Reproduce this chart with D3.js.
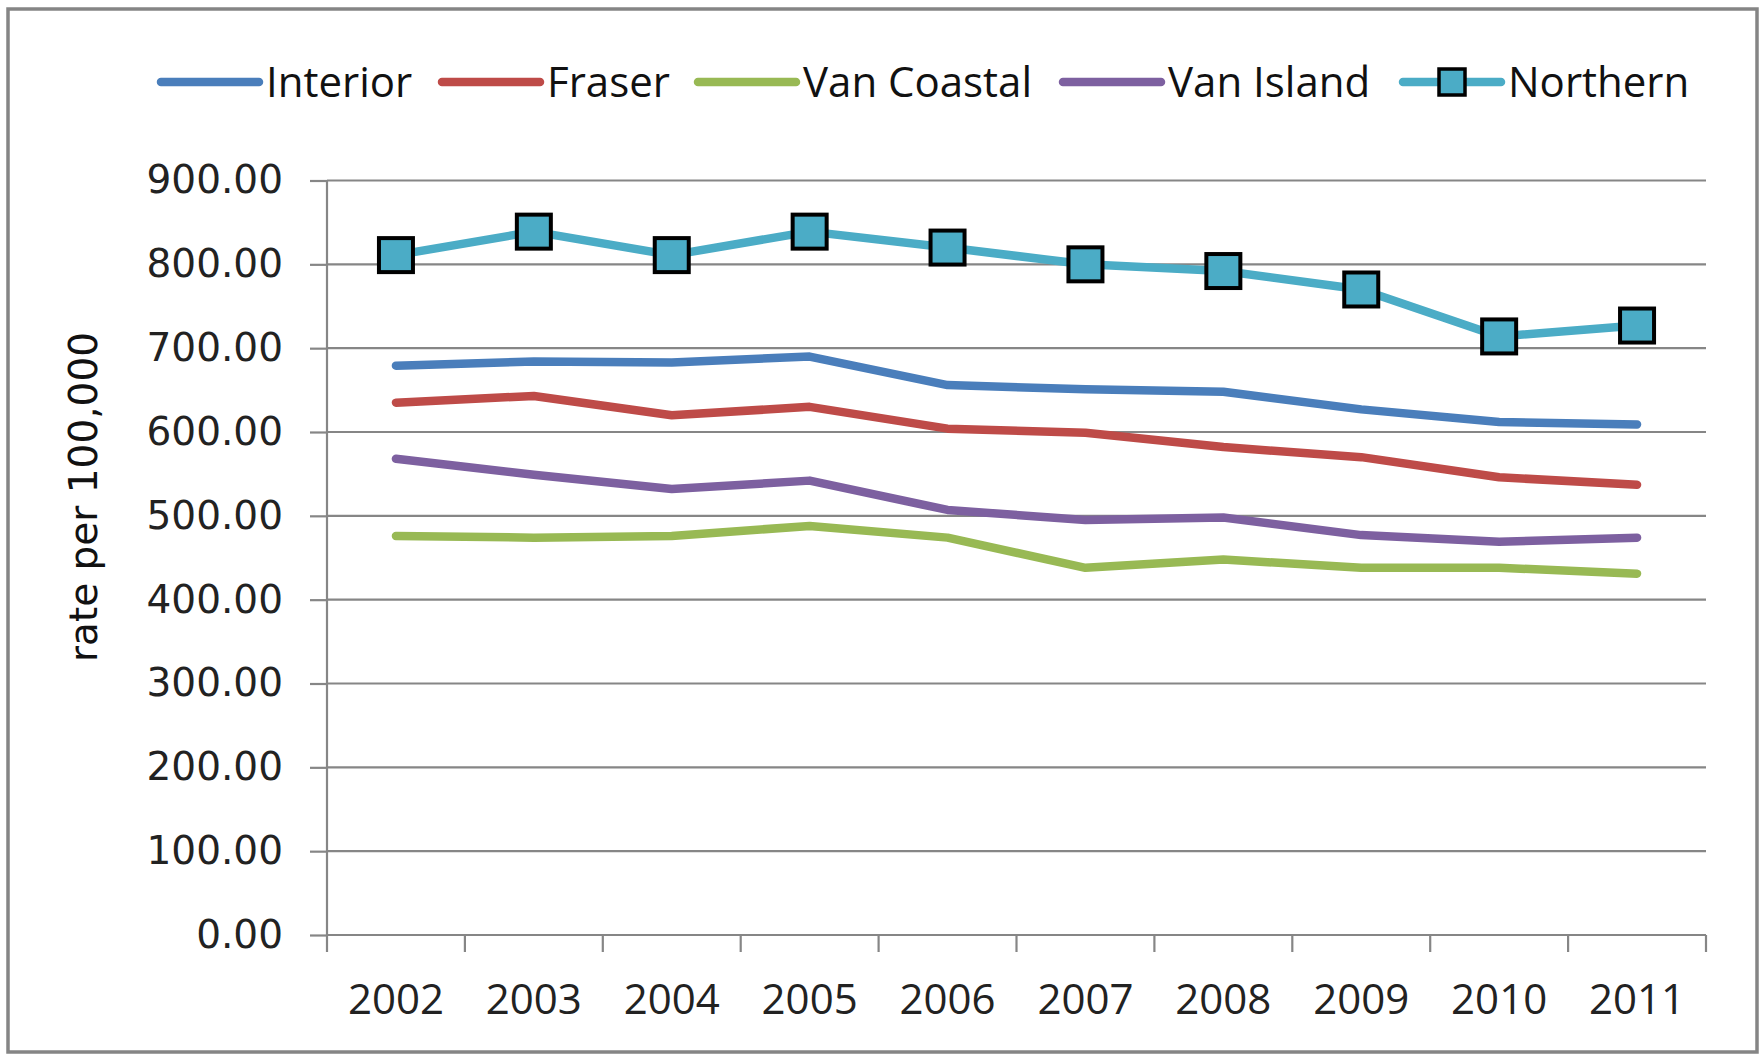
<!DOCTYPE html>
<html>
<head>
<meta charset="utf-8">
<script src="https://cdn.jsdelivr.net/npm/d3@7"></script>
<style>
  body { margin: 0; background: #fff; }
  svg { display: block; }
</style>
</head>
<body>
<svg width="1763" height="1055"></svg>
<script>
// data
var years = ["2002", "2003", "2004", "2005", "2006", "2007", "2008", "2009", "2010", "2011"];
var interior   = [679, 684, 683, 690, 656, 651, 648, 627, 612, 609];
var fraser     = [635, 643, 620, 630, 604, 599, 582, 570, 546, 537];
var vanCoastal = [476, 474, 476, 488, 474, 438, 448, 438, 438, 431];
var vanIsland  = [568, 549, 532, 542, 507, 495, 498, 477, 469, 474];
var northern   = [811, 839, 811, 839, 820, 800, 792, 770, 714, 727];
var seriesNames = ["Interior", "Fraser", "Van Coastal", "Van Island", "Northern"];
var yTicks = [0, 100, 200, 300, 400, 500, 600, 700, 800, 900];

var colors = {
  "Interior": "#4a7ebb",
  "Fraser": "#be4b48",
  "Van Coastal": "#98b954",
  "Van Island": "#7d60a0",
  "Northern": "#4bacc6"
};

var series = [
  {name: "Interior", values: interior},
  {name: "Fraser", values: fraser},
  {name: "Van Coastal", values: vanCoastal},
  {name: "Van Island", values: vanIsland},
  {name: "Northern", values: northern, marker: true}
];

var svg = d3.select("svg");

// outer frame
svg.append("rect")
    .attr("x", 8).attr("y", 9)
    .attr("width", 1749).attr("height", 1043)
    .attr("fill", "#fff")
    .attr("stroke", "#858585")
    .attr("stroke-width", 3.5);

var plotLeft = 327, plotRight = 1706, plotTop = 180.5, plotBottom = 935;

var x = d3.scaleBand().domain(years).range([plotLeft, plotRight]);
var y = d3.scaleLinear().domain([0, 900]).range([plotBottom, plotTop]);

var gridColor = "#868686";

// y labels with small outer ticks
var yAxis = svg.append("g")
    .attr("transform", "translate(" + plotLeft + ",0)")
    .call(d3.axisLeft(y).tickValues(yTicks).tickFormat(d3.format(".2f"))
      .tickSize(17).tickPadding(27));
yAxis.select(".domain").remove();
yAxis.selectAll(".tick line").attr("stroke", gridColor).attr("stroke-width", 2.2);
yAxis.selectAll(".tick text")
    .attr("fill", "#222")
    .style("font-family", "'DejaVu Sans', Verdana, sans-serif")
    .style("font-size", "39px");

// horizontal gridlines
svg.append("g").selectAll("line")
    .data(yTicks)
    .enter().append("line")
    .attr("x1", plotLeft).attr("x2", plotRight)
    .attr("y1", function(d) { return y(d); })
    .attr("y2", function(d) { return y(d); })
    .attr("stroke", gridColor)
    .attr("stroke-width", 2.2);

// vertical axis line
svg.append("line")
    .attr("x1", plotLeft).attr("x2", plotLeft)
    .attr("y1", plotTop).attr("y2", plotBottom)
    .attr("stroke", gridColor).attr("stroke-width", 2.2);

// x axis: ticks between categories
var edges = years.map(function(d) { return x(d); }).concat([plotRight]);
svg.append("g").selectAll("line")
    .data(edges)
    .enter().append("line")
    .attr("x1", function(d) { return d; })
    .attr("x2", function(d) { return d; })
    .attr("y1", plotBottom).attr("y2", plotBottom + 17)
    .attr("stroke", gridColor).attr("stroke-width", 2.2);

svg.append("g").selectAll("text")
    .data(years)
    .enter().append("text")
    .attr("x", function(d) { return x(d) + x.bandwidth() / 2; })
    .attr("y", plotBottom + 79)
    .attr("text-anchor", "middle")
    .attr("fill", "#222")
    .style("font-family", "'Open Sans', sans-serif")
    .style("font-size", "42px")
    .text(function(d) { return d; });

// y axis title
svg.append("text")
    .attr("transform", "translate(97,497) rotate(-90)")
    .attr("text-anchor", "middle")
    .attr("fill", "#111")
    .style("font-family", "'DejaVu Sans', Verdana, sans-serif")
    .style("font-size", "39px")
    .text("rate per 100,000");

// lines
var line = d3.line()
    .x(function(d, i) { return x(years[i]) + x.bandwidth() / 2; })
    .y(function(d) { return y(d); });

series.forEach(function(s) {
  svg.append("path")
      .datum(s.values)
      .attr("d", line)
      .attr("fill", "none")
      .attr("stroke", colors[s.name])
      .attr("stroke-width", 8.5)
      .attr("stroke-linejoin", "round")
      .attr("stroke-linecap", "round");
  if (s.marker) {
    svg.append("g").selectAll("rect")
        .data(s.values)
        .enter().append("rect")
        .attr("x", function(d, i) { return x(years[i]) + x.bandwidth() / 2 - 17; })
        .attr("y", function(d) { return y(d) - 17; })
        .attr("width", 34).attr("height", 34)
        .attr("fill", colors[s.name])
        .attr("stroke", "#000")
        .attr("stroke-width", 4);
  }
});

// legend
var legendX = [161, 442, 698, 1063, 1403];
var legend = svg.append("g").selectAll("g")
    .data(seriesNames)
    .enter().append("g")
    .attr("transform", function(d, i) { return "translate(" + legendX[i] + ",82)"; });

legend.append("line")
    .attr("x1", 0).attr("x2", 98)
    .attr("y1", 0).attr("y2", 0)
    .attr("stroke", function(d) { return colors[d]; })
    .attr("stroke-width", 8.5)
    .attr("stroke-linecap", "round");

legend.filter(function(d) { return d === "Northern"; })
  .append("rect")
    .attr("x", 49 - 13).attr("y", -13)
    .attr("width", 26).attr("height", 26)
    .attr("fill", colors["Northern"])
    .attr("stroke", "#000")
    .attr("stroke-width", 3.5);

legend.append("text")
    .attr("x", 105)
    .attr("y", 15)
    .attr("fill", "#111")
    .style("font-family", "'Open Sans', sans-serif")
    .style("font-size", "42px")
    .text(function(d) { return d; });
</script>
</body>
</html>
